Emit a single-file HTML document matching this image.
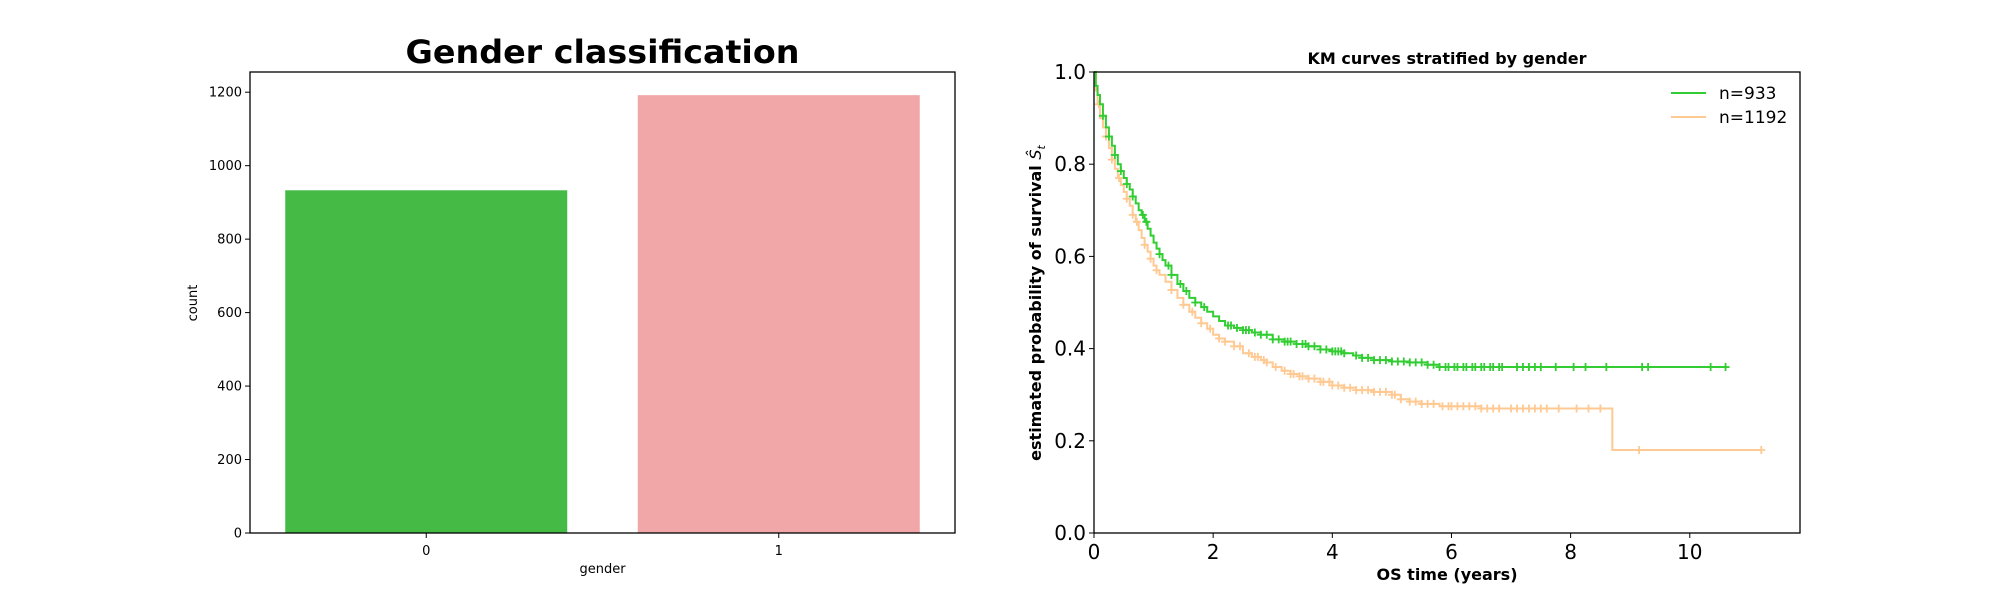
<!DOCTYPE html>
<html><head><meta charset="utf-8"><style>
html,body{margin:0;padding:0;background:#fff;}
svg{display:block;}
text{font-family:"DejaVu Sans","Liberation Sans",sans-serif;fill:#000;}
</style></head>
<body>
<svg id="fig" width="2000" height="600" viewBox="0 0 2000 600" xmlns="http://www.w3.org/2000/svg">
  <g id="bar-chart"></g>
  <g id="km-chart"></g>
</svg>
<script>
// ---- Bar chart data ----
const barCategories = ["0", "1"];
const barValues = [933, 1192];
const barColors = ["#45bb45", "#f1a7a7"];
const barTicks = [0, 200, 400, 600, 800, 1000, 1200];

// ---- KM data ----
const greenTimes = [0, 0.03, 0.06, 0.1, 0.15, 0.2, 0.25, 0.3, 0.35, 0.4, 0.45, 0.5, 0.55, 0.6, 0.65, 0.7, 0.75, 0.8, 0.85, 0.9, 0.95, 1.0, 1.05, 1.1, 1.15, 1.2, 1.3, 1.4, 1.5, 1.6, 1.7, 1.8, 1.9, 2.0, 2.1, 2.2, 2.35, 2.5, 2.65, 2.8, 3.0, 3.2, 3.4, 3.6, 3.8, 4.0, 4.2, 4.35, 4.5, 4.7, 5.0, 5.3, 5.6, 5.8, 10.6];
const greenSurv  = [1.0, 0.97, 0.95, 0.93, 0.905, 0.88, 0.86, 0.84, 0.82, 0.80, 0.785, 0.77, 0.757, 0.745, 0.73, 0.715, 0.70, 0.69, 0.675, 0.66, 0.645, 0.63, 0.617, 0.605, 0.592, 0.58, 0.56, 0.54, 0.525, 0.51, 0.50, 0.49, 0.48, 0.47, 0.46, 0.45, 0.445, 0.44, 0.435, 0.43, 0.42, 0.415, 0.41, 0.405, 0.398, 0.394, 0.39, 0.385, 0.38, 0.375, 0.372, 0.37, 0.365, 0.36, 0.36];
const greenCensor = [0.15, 0.25, 0.35, 0.45, 0.55, 0.65, 0.82, 0.88, 1.1, 1.25, 1.3, 1.45, 1.55, 1.7, 1.85, 2.25, 2.3, 2.4, 2.5, 2.55, 2.6, 2.7, 2.8, 2.9, 3.0, 3.1, 3.2, 3.25, 3.3, 3.4, 3.5, 3.55, 3.6, 3.7, 3.8, 3.9, 4.0, 4.05, 4.1, 4.15, 4.2, 4.4, 4.5, 4.6, 4.7, 4.8, 4.9, 5.0, 5.1, 5.2, 5.3, 5.4, 5.5, 5.6, 5.7, 5.8, 5.9, 5.95, 6.05, 6.1, 6.2, 6.25, 6.35, 6.4, 6.5, 6.55, 6.65, 6.7, 6.8, 6.85, 7.1, 7.2, 7.3, 7.4, 7.5, 7.75, 8.05, 8.25, 8.6, 9.2, 9.3, 10.35, 10.6];
const orangeTimes = [0, 0.03, 0.06, 0.1, 0.15, 0.2, 0.25, 0.3, 0.35, 0.4, 0.45, 0.5, 0.55, 0.6, 0.65, 0.7, 0.75, 0.8, 0.85, 0.9, 0.95, 1.0, 1.05, 1.1, 1.2, 1.3, 1.4, 1.5, 1.6, 1.7, 1.8, 1.9, 2.0, 2.1, 2.2, 2.35, 2.5, 2.65, 2.8, 2.9, 3.0, 3.15, 3.3, 3.45, 3.6, 3.8, 4.0, 4.2, 4.4, 4.7, 5.0, 5.15, 5.3, 5.5, 5.8, 6.5, 8.7, 8.7, 11.2];
const orangeSurv  = [1.0, 0.96, 0.93, 0.90, 0.88, 0.86, 0.835, 0.81, 0.79, 0.77, 0.755, 0.74, 0.725, 0.71, 0.69, 0.675, 0.657, 0.64, 0.625, 0.61, 0.595, 0.58, 0.57, 0.56, 0.545, 0.527, 0.51, 0.495, 0.48, 0.467, 0.455, 0.443, 0.43, 0.422, 0.415, 0.405, 0.39, 0.382, 0.375, 0.37, 0.36, 0.352, 0.345, 0.34, 0.335, 0.328, 0.32, 0.315, 0.31, 0.306, 0.30, 0.29, 0.285, 0.28, 0.275, 0.27, 0.27, 0.18, 0.18];
const orangeCensor = [0.08, 0.2, 0.3, 0.42, 0.55, 0.65, 0.72, 0.85, 0.95, 1.05, 1.3, 1.5, 1.65, 1.8, 1.95, 2.1, 2.2, 2.35, 2.45, 2.6, 2.7, 2.75, 2.85, 2.9, 3.05, 3.2, 3.3, 3.35, 3.45, 3.5, 3.6, 3.7, 3.8, 3.85, 3.95, 4.0, 4.1, 4.2, 4.3, 4.4, 4.5, 4.6, 4.7, 4.8, 4.9, 5.0, 5.05, 5.15, 5.3, 5.4, 5.5, 5.6, 5.7, 5.85, 5.95, 6.0, 6.1, 6.2, 6.3, 6.4, 6.5, 6.6, 6.7, 6.8, 7.0, 7.1, 7.2, 7.3, 7.4, 7.5, 7.6, 7.8, 8.1, 8.3, 8.5, 9.15, 11.2];
const kmXTicks = [0, 2, 4, 6, 8, 10];
const kmYTicks = [0.0, 0.2, 0.4, 0.6, 0.8, 1.0];

const NS = "http://www.w3.org/2000/svg";
function mk(parent, tag, attrs, txt) {
  const e = document.createElementNS(NS, tag);
  for (const k in attrs) e.setAttribute(k, attrs[k]);
  if (txt !== undefined) e.textContent = txt;
  parent.appendChild(e);
  return e;
}

// ---------- Bar chart ----------
(function(){
  const g = document.getElementById('bar-chart');
  const L = 250, R = 955, T = 72, B = 533;
  const yMax = 1255;
  const y = v => B - v / yMax * (B - T);
  const x = c => L + (c + 0.5) / 2 * (R - L);
  const bw = 0.8 / 2 * (R - L);
  barValues.forEach((v, i) => {
    const r = mk(g, 'rect', {x: x(i) - bw/2, y: y(v), width: bw, height: B - y(v), fill: barColors[i]});
    
    
  });
  const frame = mk(g, 'rect', {x: L, y: T, width: R-L, height: B-T, fill: 'none', stroke: '#000', 'stroke-width': 1.3});
  
  
  barTicks.forEach(t => {
    const tk = mk(g, 'line', {x1: L-5, x2: L, y1: y(t), y2: y(t), stroke: '#000', 'stroke-width': 1});
    
    
    const lb = mk(g, 'text', {x: L-8, y: y(t)+4.5, 'text-anchor': 'end', 'font-size': 13}, String(t));
    
    
  });
  barCategories.forEach((c, i) => {
    const tk = mk(g, 'line', {x1: x(i), x2: x(i), y1: B, y2: B+5, stroke: '#000', 'stroke-width': 1});
    
    
    const lb = mk(g, 'text', {x: x(i), y: B+22, 'text-anchor': 'middle', 'font-size': 13}, c);
    
    
  });
  const xt = mk(g, 'text', {x: (L+R)/2, y: 573, 'text-anchor': 'middle', 'font-size': 13}, 'gender');
  
  
  const yt = mk(g, 'text', {x: 0, y: 0, 'text-anchor': 'middle', 'font-size': 13, transform: 'translate(197,303) rotate(-90)'}, 'count');
  
  
  const ti = mk(g, 'text', {x: (L+R)/2, y: 63, 'text-anchor': 'middle', 'font-size': 32, 'font-weight': 'bold', textLength: 394, lengthAdjust: 'spacingAndGlyphs'}, 'Gender classification');
  
  
})();

// ---------- KM chart ----------
(function(){
  const g = document.getElementById('km-chart');
  const L = 1094, R = 1800, T = 72, B = 533;
  const xMax = 11.85;
  const x = t => L + t / xMax * (R - L);
  const y = s => B - s * (B - T);

  function stepPath(ts, ss) {
    let d = 'M' + x(ts[0]) + ',' + y(ss[0]);
    for (let i = 1; i < ts.length; i++) {
      d += ' L' + x(ts[i]) + ',' + y(ss[i-1]) + ' L' + x(ts[i]) + ',' + y(ss[i]);
    }
    return d;
  }
  function survAt(ts, ss, t) {
    let s = ss[0];
    for (let i = 0; i < ts.length; i++) { if (ts[i] <= t) s = ss[i]; }
    return s;
  }
  function drawSeries(ts, ss, cens, color, name) {
    const sg = mk(g, 'g', {});
    
    
    const p = mk(sg, 'path', {d: stepPath(ts, ss), fill: 'none', stroke: color, 'stroke-width': 2});
    
    
    cens.forEach(c => {
      const cx = x(c), cy = y(survAt(ts, ss, c));
      const m = mk(sg, 'path', {d: 'M'+(cx-4)+','+cy+' H'+(cx+4)+' M'+cx+','+(cy-4)+' V'+(cy+4), stroke: color, 'stroke-width': 1.8});
      
      
    });
  }
  drawSeries(orangeTimes, orangeSurv, orangeCensor, '#ffc993', 'km-series-n1192');
  drawSeries(greenTimes, greenSurv, greenCensor, '#32cd32', 'km-series-n933');

  const frame = mk(g, 'rect', {x: L, y: T, width: R-L, height: B-T, fill: 'none', stroke: '#000', 'stroke-width': 1.3});
  
  
  kmYTicks.forEach(t => {
    const tk = mk(g, 'line', {x1: L-5, x2: L, y1: y(t), y2: y(t), stroke: '#000', 'stroke-width': 1});
    
    
    const lb = mk(g, 'text', {x: L-8, y: y(t)+7, 'text-anchor': 'end', 'font-size': 20}, t.toFixed(1));
    
    
  });
  kmXTicks.forEach(t => {
    const tk = mk(g, 'line', {x1: x(t), x2: x(t), y1: B, y2: B+5, stroke: '#000', 'stroke-width': 1});
    
    
    const lb = mk(g, 'text', {x: x(t), y: B+26, 'text-anchor': 'middle', 'font-size': 20}, String(t));
    
    
  });
  const xt = mk(g, 'text', {x: (L+R)/2, y: 580, 'text-anchor': 'middle', 'font-size': 16, 'font-weight': 'bold'}, 'OS time (years)');
  
  
  const yt = mk(g, 'text', {x: 0, y: 0, 'text-anchor': 'middle', 'font-size': 16, 'font-weight': 'bold', transform: 'translate(1041,303) rotate(-90)'});
  
  
  mk(yt, 'tspan', {}, 'estimated probability of survival ');
  mk(yt, 'tspan', {'font-style': 'italic', 'font-weight': 'normal'}, 'Ŝ');
  mk(yt, 'tspan', {'font-style': 'italic', 'font-weight': 'normal', 'font-size': 11, dy: 4}, 't');
  const ti = mk(g, 'text', {x: (L+R)/2, y: 64, 'text-anchor': 'middle', 'font-size': 16, 'font-weight': 'bold'}, 'KM curves stratified by gender');
  
  

  const lg = mk(g, 'g', {});
  
  
  const entries = [['n=933', '#32cd32', 93], ['n=1192', '#ffc993', 117]];
  entries.forEach(en => {
    const l = mk(lg, 'line', {x1: 1671, x2: 1706, y1: en[2], y2: en[2], stroke: en[1], 'stroke-width': 2});
    
    
    const t = mk(lg, 'text', {x: 1719, y: en[2]+6, 'font-size': 17}, en[0]);
    
    
  });
})();
</script>
</body></html>
